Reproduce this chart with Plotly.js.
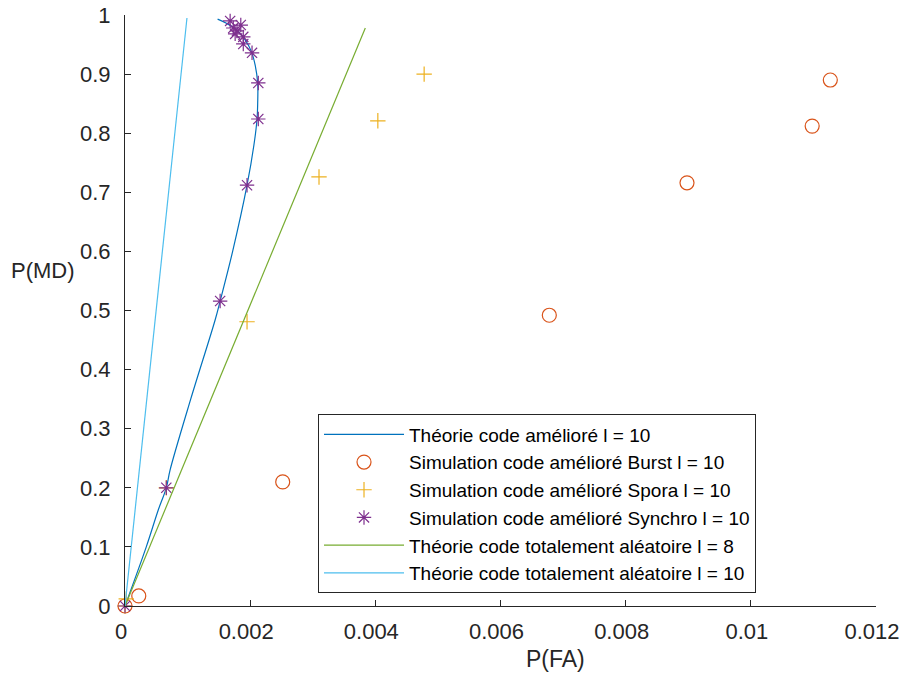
<!DOCTYPE html>
<html>
<head>
<meta charset="utf-8">
<script src="https://cdn.plot.ly/plotly-3.0.1.min.js"></script>
<style>html,body{margin:0;padding:0;background:#fff;}#chart{width:903px;height:675px;}</style>
</head>
<body>
<div id="chart"></div>
<script>
// Theory, improved code, l = 10 (curve)
const theoryImpY = [0, 0.1, 0.162, 0.2, 0.23, 0.35, 0.484, 0.516, 0.6, 0.712, 0.78, 0.824, 0.85, 0.885, 0.915, 0.938, 0.958, 0.975, 0.986, 0.993];
const theoryImpX = [0, 0.00034, 0.00053, 0.00066, 0.00072, 0.00105, 0.00144, 0.00152, 0.00172, 0.00195, 0.00206, 0.00211, 0.00212, 0.00212, 0.00208, 0.00202, 0.00192, 0.00178, 0.00162, 0.00148];

// Simulation Burst
const burstX = [0, 0.00022, 0.00252, 0.00678, 0.00898, 0.01098, 0.01127];
const burstY = [0, 0.017, 0.210, 0.492, 0.716, 0.812, 0.890];

// Simulation Spora
const sporaX = [0, 0.00002, 0.00066, 0.00195, 0.00310, 0.00404, 0.00478];
const sporaY = [0, 0.012, 0.200, 0.481, 0.726, 0.821, 0.900];

// Simulation Synchro
const synchroX = [0, 0.00066, 0.00152, 0.00195, 0.00213, 0.00213, 0.00203, 0.00189, 0.00189, 0.00176, 0.00179, 0.00173, 0.00185, 0.00168];
const synchroY = [0, 0.200, 0.516, 0.712, 0.824, 0.885, 0.936, 0.951, 0.963, 0.968, 0.973, 0.978, 0.983, 0.990];

// Theory, random code, l = 8 and l = 10
const rand8X = [0, 0.00384];
const rand8Y = [0, 0.978];
const rand10X = [0, 0.00099];
const rand10Y = [0, 0.995];

const xTickVals = [0, 0.002, 0.004, 0.006, 0.008, 0.01, 0.012];
const xTickText = ['0', '0.002', '0.004', '0.006', '0.008', '0.01', '0.012'];
const yTickVals = [0, 0.1, 0.2, 0.3, 0.4, 0.5, 0.6, 0.7, 0.8, 0.9, 1];
const yTickText = ['0', '0.1', '0.2', '0.3', '0.4', '0.5', '0.6', '0.7', '0.8', '0.9', '1'];

const names = [
  'Théorie code amélioré l = 10',
  'Simulation code amélioré Burst l = 10',
  'Simulation code amélioré Spora l = 10',
  'Simulation code amélioré Synchro l = 10',
  'Théorie code totalement aléatoire l = 8',
  'Théorie code totalement aléatoire l = 10'
];

const font = 'Liberation Sans, Arial, sans-serif';
const axisColor = '#262626';

const traces = [
  {x: theoryImpX, y: theoryImpY, mode: 'lines', name: names[0], line: {color: '#0072BD', width: 1.2, shape: 'spline'}},
  {x: burstX, y: burstY, mode: 'markers', name: names[1], cliponaxis: false, marker: {symbol: 'circle-open', size: 14, color: '#D95319', line: {width: 1.2}}},
  {x: sporaX, y: sporaY, mode: 'markers', name: names[2], cliponaxis: false, marker: {symbol: 'cross-thin-open', size: 11, color: '#EDB120', line: {width: 1.2, color: '#EDB120'}}},
  {x: synchroX, y: synchroY, mode: 'markers', name: names[3], cliponaxis: false, marker: {symbol: 'asterisk-open', size: 12, color: '#7E2F8E', line: {width: 1.2, color: '#7E2F8E'}}},
  {x: rand8X, y: rand8Y, mode: 'lines', name: names[4], line: {color: '#77AC30', width: 1.2}},
  {x: rand10X, y: rand10Y, mode: 'lines', name: names[5], line: {color: '#4DBEEE', width: 1.2}}
];

const layout = {
  width: 903, height: 675,
  margin: {l: 125, r: 27, t: 15, b: 69},
  paper_bgcolor: '#fff', plot_bgcolor: '#fff',
  font: {family: font, size: 22, color: axisColor},
  showlegend: true,
  legend: {
    x: 0.257, y: 0.1726, xanchor: 'left', yanchor: 'middle',
    bgcolor: '#fff', bordercolor: axisColor, borderwidth: 1,
    font: {family: font, size: 19, color: '#000'},
    itemwidth: 80,
    tracegroupgap: 0
  },
  xaxis: {
    range: [0, 0.012], tickvals: xTickVals, ticktext: xTickText,
    showgrid: false, zeroline: false, showline: true, linecolor: axisColor, linewidth: 1,
    ticks: 'inside', ticklen: 6, tickcolor: axisColor, mirror: false,
    ticklabelstandoff: 6, ticklabelshift: -4, ticklabeloverflow: 'allow',
    tickfont: {family: font, size: 22, color: axisColor}
  },
  yaxis: {
    range: [0, 1], tickvals: yTickVals, ticktext: yTickText,
    showgrid: false, zeroline: false, showline: true, linecolor: axisColor, linewidth: 1,
    ticks: 'inside', ticklen: 6, tickcolor: axisColor, mirror: false,
    ticklabelstandoff: 9, ticklabeloverflow: 'allow',
    tickfont: {family: font, size: 22, color: axisColor}
  },
  annotations: [
    {text: 'P(FA)', xref: 'paper', yref: 'paper', x: 0.5726, y: -0.0897, xanchor: 'center', yanchor: 'middle', showarrow: false, font: {family: font, size: 23, color: axisColor}},
    {text: 'P(MD)', xref: 'paper', yref: 'paper', x: -0.109, y: 0.5685, xanchor: 'center', yanchor: 'middle', showarrow: false, font: {family: font, size: 22, color: axisColor}}
  ]
};

Plotly.newPlot('chart', traces, layout, {displayModeBar: false, staticPlot: true});
</script>
</body>
</html>
